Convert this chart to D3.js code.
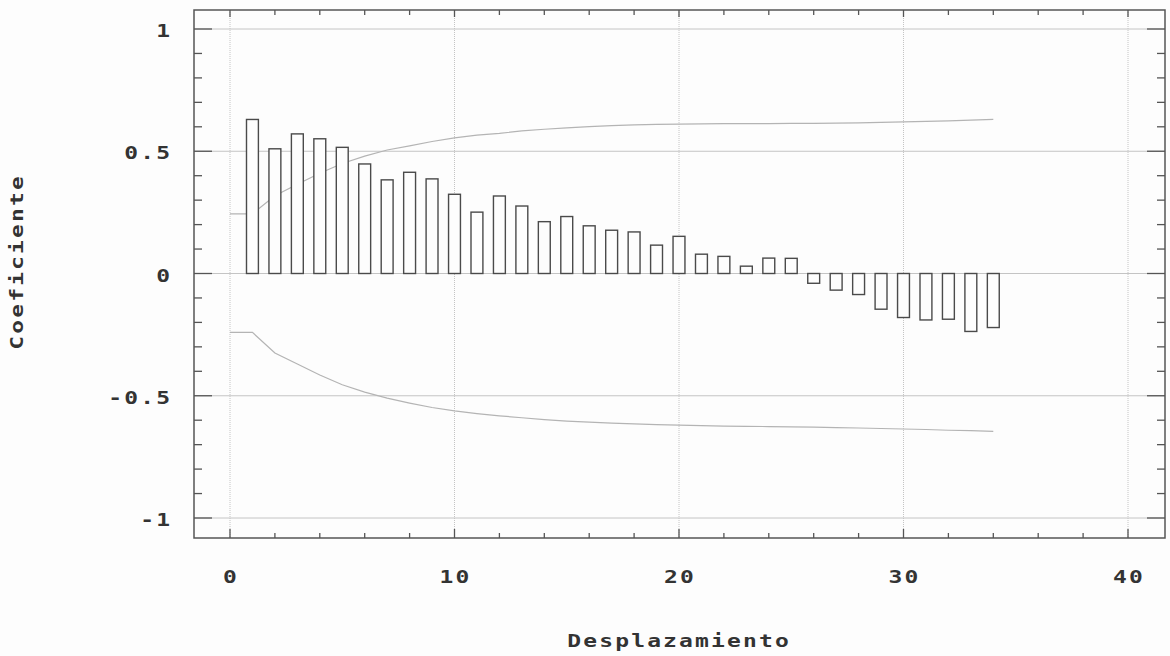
<!DOCTYPE html>
<html>
<head>
<meta charset="utf-8">
<script src="https://cdn.jsdelivr.net/npm/d3@7"></script>
<style>
  html, body { margin: 0; padding: 0; background: #fdfdfd; }
  svg { display: block; }
  text { font-family: "DejaVu Sans Mono", monospace; font-weight: bold; fill: #333; }
</style>
</head>
<body>
<svg id="chart" width="1170" height="656"></svg>
<script>
// ---- data ----
const lags = d3.range(1, 35);
const acf = [0.630, 0.510, 0.571, 0.551, 0.516, 0.448, 0.383, 0.414, 0.387, 0.324,
             0.251, 0.317, 0.276, 0.212, 0.233, 0.195, 0.177, 0.170, 0.116, 0.152,
             0.079, 0.070, 0.030, 0.063, 0.062, -0.040, -0.068, -0.086, -0.146, -0.180,
             -0.190, -0.187, -0.237, -0.221];
const bandLags = d3.range(0, 35);
const upperBand = [0.244, 0.244, 0.318, 0.365, 0.410, 0.450, 0.480, 0.505, 0.522, 0.540,
                   0.555, 0.566, 0.573, 0.583, 0.590, 0.596, 0.601, 0.605, 0.608, 0.610,
                   0.611, 0.612, 0.613, 0.613, 0.613, 0.614, 0.614, 0.615, 0.616, 0.618,
                   0.620, 0.622, 0.624, 0.627, 0.630];
const lowerBand = [-0.241, -0.241, -0.325, -0.370, -0.415, -0.455, -0.485, -0.510, -0.530, -0.548,
                   -0.562, -0.573, -0.582, -0.590, -0.598, -0.604, -0.608, -0.612, -0.615, -0.618,
                   -0.620, -0.622, -0.624, -0.625, -0.626, -0.627, -0.628, -0.630, -0.632, -0.634,
                   -0.636, -0.638, -0.641, -0.643, -0.646];
const xTickLabels = [0, 10, 20, 30, 40];
const yTickLabels = [1, 0.5, 0, -0.5, -1];
const xLabel = "Desplazamiento";
const yLabel = "Coeficiente";

// ---- layout ----
const frame = {left: 194, right: 1165, top: 10, bottom: 538};
const x = d3.scaleLinear().domain([0, 40]).range([230, 1128]);
const y = d3.scaleLinear().domain([-1, 1]).range([518, 29]);
const svg = d3.select("#chart");
svg.append("rect").attr("width", 1170).attr("height", 656).attr("fill", "#fdfdfd");

// grid
svg.append("g").selectAll("line").data(yTickLabels).join("line")
  .attr("x1", frame.left).attr("x2", frame.right)
  .attr("y1", d => y(d)).attr("y2", d => y(d))
  .attr("stroke", "#c4c4c4").attr("stroke-width", 1);
svg.append("g").selectAll("line").data(xTickLabels).join("line")
  .attr("x1", d => x(d)).attr("x2", d => x(d))
  .attr("y1", frame.top).attr("y2", frame.bottom)
  .attr("stroke", "#c4c4c4").attr("stroke-width", 1).attr("stroke-dasharray", "1,1");

// ticks
const tickColor = "#555";
const xMinor = d3.range(0, 41, 2);
const yMinor = d3.range(-10, 11).map(d => d / 10);
const tg = svg.append("g").attr("stroke", tickColor).attr("stroke-width", 1.3);
xMinor.forEach(d => {
  const major = d % 10 === 0;
  tg.append("line").attr("x1", x(d)).attr("x2", x(d))
    .attr("y1", frame.bottom).attr("y2", frame.bottom - (major ? 9 : 5));
  tg.append("line").attr("x1", x(d)).attr("x2", x(d))
    .attr("y1", frame.top).attr("y2", frame.top + (major ? 7 : 5));
});
yMinor.forEach(d => {
  const major = Math.abs(Math.round(d * 10)) % 5 === 0;
  const len = major ? 18 : 8;
  tg.append("line").attr("y1", y(d)).attr("y2", y(d))
    .attr("x1", frame.left).attr("x2", frame.left + len);
  tg.append("line").attr("y1", y(d)).attr("y2", y(d))
    .attr("x1", frame.right).attr("x2", frame.right - len);
});

// confidence bands
const smooth = d3.line().x(d => x(d[0])).y(d => y(d[1]));
function bandPath(vals) {
  return smooth(vals.map((v, i) => [bandLags[i], v]));
}
svg.append("path").attr("d", bandPath(upperBand))
  .attr("fill", "none").attr("stroke", "#b4b4b4").attr("stroke-width", 1.2);
svg.append("path").attr("d", bandPath(lowerBand))
  .attr("fill", "none").attr("stroke", "#b4b4b4").attr("stroke-width", 1.2);

// bars
const bw = x(0.53) - x(0);
svg.append("g").selectAll("rect").data(acf).join("rect")
  .attr("x", (d, i) => x(lags[i]) - bw / 2)
  .attr("y", d => y(Math.max(0, d)))
  .attr("width", bw)
  .attr("height", d => Math.abs(y(d) - y(0)))
  .attr("fill", "#fdfdfd").attr("stroke", "#4a4a4a").attr("stroke-width", 1.4);

// frame
svg.append("rect").attr("x", frame.left).attr("y", frame.top)
  .attr("width", frame.right - frame.left).attr("height", frame.bottom - frame.top)
  .attr("fill", "none").attr("stroke", "#555").attr("stroke-width", 1.5);

// wide text helper
const SX = 1.35, FS = 17, LS = 1.6;
function wideText(g, tx, ty, anchor, str, rot) {
  const shift = anchor === "end" ? LS * SX : (anchor === "middle" ? LS * SX / 2 : 0);
  let tr = `translate(${tx},${ty})`;
  if (rot) tr += ` rotate(${rot})`;
  tr += ` translate(${shift},0) scale(${SX},1)`;
  g.append("text").attr("transform", tr)
    .attr("text-anchor", anchor).attr("font-size", FS).attr("letter-spacing", LS)
    .text(str);
}

// tick labels
const lg = svg.append("g");
xTickLabels.forEach(d => wideText(lg, x(d), 583, "middle", String(d)));
yTickLabels.forEach(d => wideText(lg, 170, y(d) + 8, "end", String(d)));

// axis labels
wideText(lg, 678, 647, "middle", xLabel);
wideText(lg, 23, 263, "middle", yLabel, -90);
</script>
</body>
</html>
